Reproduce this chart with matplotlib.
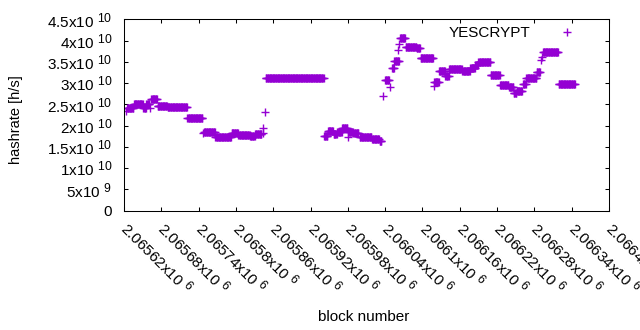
import numpy as np
import matplotlib
matplotlib.use("Agg")
import matplotlib.pyplot as plt
from matplotlib.transforms import ScaledTranslation

try:
    import matplotlib._mathtext as _mt
    _mt.SHRINK_FACTOR = 0.8
except Exception:
    pass

plt.rcParams['font.family'] = ['Liberation Sans', 'DejaVu Sans']
plt.rcParams['mathtext.fontset'] = 'custom'
plt.rcParams['mathtext.rm'] = 'Liberation Sans'
plt.rcParams['mathtext.it'] = 'Liberation Sans'
plt.rcParams['mathtext.default'] = 'regular'

# ---- data: runs of blocks with constant hashrate (x1e10 h/s) ----
block_start = [2065623, 2065625, 2065636, 2065651, 2065656, 2065662, 2065664, 2065674,
               2065690, 2065722, 2065747, 2065749, 2065767, 2065793, 2065804, 2065823,
               2065831, 2065843, 2065844, 2065847, 2065848, 2065942, 2065948, 2065957,
               2065963, 2065971, 2065980, 2065981, 2065989, 2065999, 2066019, 2066031,
               2066036, 2066040, 2066047, 2066051, 2066055, 2066061, 2066063, 2066064,
               2066073, 2066091, 2066097, 2066118, 2066119, 2066127, 2066137, 2066143,
               2066164, 2066177, 2066185, 2066190, 2066210, 2066225, 2066239, 2066247,
               2066252, 2066262, 2066267, 2066284, 2066290, 2066292, 2066294, 2066319]
block_end = [2065623, 2065635, 2065650, 2065655, 2065661, 2065662, 2065673, 2065689,
             2065721, 2065746, 2065747, 2065766, 2065792, 2065803, 2065822, 2065830,
             2065841, 2065843, 2065844, 2065847, 2065941, 2065947, 2065956, 2065962,
             2065970, 2065979, 2065980, 2065988, 2065997, 2066018, 2066030, 2066034,
             2066036, 2066046, 2066047, 2066054, 2066062, 2066061, 2066063, 2066072,
             2066090, 2066096, 2066117, 2066118, 2066126, 2066136, 2066142, 2066163,
             2066176, 2066184, 2066189, 2066209, 2066224, 2066238, 2066246, 2066251,
             2066260, 2066266, 2066283, 2066289, 2066290, 2066292, 2066318, 2066345]
hashrate_e10 = [2.34, 2.41, 2.50, 2.42, 2.50, 2.41, 2.62, 2.47,
                2.43, 2.17, 1.82, 1.86, 1.73, 1.83, 1.79, 1.76,
                1.80, 1.83, 1.95, 2.33, 3.11, 1.75, 1.88, 1.80,
                1.86, 1.94, 1.74, 1.86, 1.83, 1.74, 1.68, 1.64,
                2.70, 3.07, 2.90, 3.35, 3.52, 3.78, 3.91, 4.05,
                3.86, 3.83, 3.58, 2.93, 3.02, 3.28, 3.17, 3.33,
                3.28, 3.36, 3.43, 3.49, 3.20, 2.96, 2.92, 2.76,
                2.81, 2.97, 3.11, 3.27, 3.54, 3.61, 3.72, 2.97]

xtick_values = [2065620, 2065680, 2065740, 2065800, 2065860, 2065920, 2065980,
                2066040, 2066100, 2066160, 2066220, 2066280, 2066340, 2066400]
xtick_labels = ['2.06562x10 $^{6}$', '2.06568x10 $^{6}$', '2.06574x10 $^{6}$',
                '2.0658x10 $^{6}$', '2.06586x10 $^{6}$', '2.06592x10 $^{6}$',
                '2.06598x10 $^{6}$', '2.06604x10 $^{6}$', '2.0661x10 $^{6}$',
                '2.06616x10 $^{6}$', '2.06622x10 $^{6}$', '2.06628x10 $^{6}$',
                '2.06634x10 $^{6}$', '2.0664x10 $^{6}$']
ytick_values = [0, 5e9, 1e10, 1.5e10, 2e10, 2.5e10, 3e10, 3.5e10, 4e10, 4.5e10]
ytick_labels = ['0', '5x10 $^{9}$', '1x10 $^{10}$', '1.5x10 $^{10}$', '2x10 $^{10}$',
                '2.5x10 $^{10}$', '3x10 $^{10}$', '3.5x10 $^{10}$', '4x10 $^{10}$',
                '4.5x10 $^{10}$']

# expand runs into one point per block
xs, ys = [], []
for s, e, v in zip(block_start, block_end, hashrate_e10):
    b = np.arange(s, e + 1)
    xs.append(b)
    ys.append(np.full(b.shape, v * 1e10))
xs = np.concatenate(xs)
ys = np.concatenate(ys)

FS = 11
fig = plt.figure(figsize=(6.4, 3.3), dpi=100)
ax = fig.add_axes([124 / 640, (330 - 210.7) / 330, 485 / 640, 191.4 / 330])

ax.plot(xs, ys, linestyle='none', marker='+', ms=5.5, mew=1.0,
        color='#9400D3', label='YESCRYPT')

ax.set_xlim(2065620, 2066400)
ax.set_ylim(0, 4.5e10)
ax.set_xticks(xtick_values)
ax.set_xticklabels(xtick_labels, rotation=-45, ha='left', va='center',
                   rotation_mode='anchor', fontsize=FS)
off = ScaledTranslation(4 / 100, 0, fig.dpi_scale_trans)
for lab in ax.get_xticklabels():
    lab.set_transform(lab.get_transform() + off)
ax.set_yticks(ytick_values)
ax.set_yticklabels(ytick_labels, fontsize=FS)
ax.tick_params(direction='in', length=2.9, width=0.75, top=True, right=True,
               colors='black')
ax.tick_params(axis='y', pad=8.5)
ax.tick_params(axis='x', pad=10.5)
for sp in ax.spines.values():
    sp.set_linewidth(0.75)
    sp.set_color('black')

ax.set_ylabel('hashrate [h/s]', fontsize=10.5)
ax.yaxis.label.set_va('center')
ax.yaxis.set_label_coords((16 - 124) / 485, (210.7 - 120) / 191.4)
ax.set_xlabel('block number', fontsize=FS)
ax.xaxis.label.set_va('center')
ax.xaxis.set_label_coords((363.9 - 124) / 485, (210.7 - 316.6) / 191.4)

ax.legend(loc='upper right', bbox_to_anchor=(0.960, 0.965), frameon=False,
          markerfirst=False, handlelength=3, handletextpad=0.9,
          borderpad=0, borderaxespad=0, fontsize=FS)

fig.savefig('out.png', dpi=100)
